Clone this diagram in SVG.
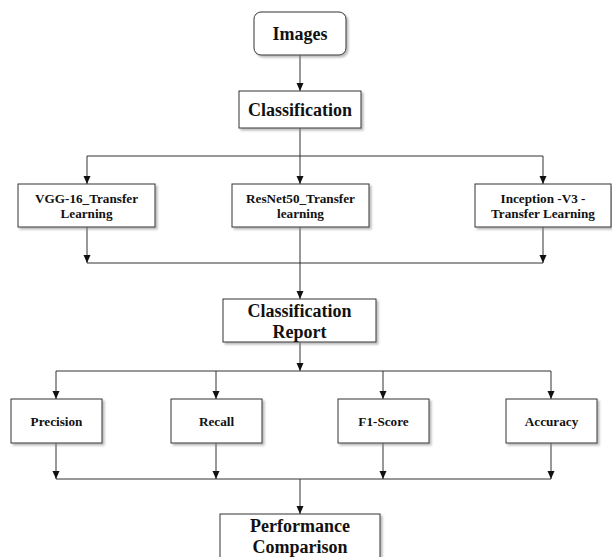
<svg xmlns="http://www.w3.org/2000/svg" width="612" height="557" viewBox="0 0 612 557">
<style>
.box{fill:#fff;stroke:#333;stroke-width:1;filter:url(#sh)}
.t{font-family:"Liberation Serif","Times New Roman",serif;font-weight:bold;fill:#111;text-anchor:middle;dominant-baseline:central}
.big{font-size:18px}
.sm{font-size:13.2px}
.c{fill:none;stroke:#333;stroke-width:1}
.a{fill:none;stroke:#333;stroke-width:1;marker-end:url(#ah)}
</style>
<defs>
<filter id="sh" x="-10%" y="-10%" width="130%" height="140%">
<feDropShadow dx="2" dy="2" stdDeviation="1" flood-color="#888" flood-opacity="0.6"/>
</filter>
<marker id="ah" viewBox="0 0 8 8" refX="8" refY="4" markerWidth="8" markerHeight="8" markerUnits="userSpaceOnUse" orient="auto">
<path d="M0,0.5 L8,4 L0,7.5 Z" fill="#111"/>
</marker>
</defs>
<rect width="612" height="557" fill="#fff"/>
<g id="connectors">
<path class="a" d="M300,55 V91"/>
<path class="c" d="M300,128 V156 M87,156 H543"/>
<path class="a" d="M87,156 V184"/>
<path class="a" d="M300,156 V184"/>
<path class="a" d="M543,156 V184"/>
<path class="a" d="M87,227 V263"/>
<path class="a" d="M543,227 V263"/>
<path class="c" d="M87,263 H543"/>
<path class="a" d="M300,227 V299"/>
<path class="a" d="M300,342 V371"/>
<path class="c" d="M56,371 H551"/>
<path class="a" d="M56,371 V399"/>
<path class="a" d="M216,371 V399"/>
<path class="a" d="M383,371 V399"/>
<path class="a" d="M551,371 V399"/>
<path class="a" d="M56,443 V479"/>
<path class="a" d="M216,443 V479"/>
<path class="a" d="M383,443 V479"/>
<path class="a" d="M551,443 V479"/>
<path class="c" d="M56,479 H551"/>
<path class="a" d="M300,479 V514"/>
</g>
<g id="images"><rect class="box" x="254" y="12" width="92" height="43" rx="7"/><text class="t big" x="300" y="34">Images</text></g>
<g id="classification"><rect class="box" x="239" y="91" width="122" height="37"/><text class="t big" x="300" y="109.5">Classification</text></g>
<g id="vgg"><rect class="box" x="18" y="184" width="137" height="43"/><text class="t sm" x="86.5" y="198">VGG-16_Transfer</text><text class="t sm" x="86.5" y="213">Learning</text></g>
<g id="resnet"><rect class="box" x="232" y="184" width="137" height="43"/><text class="t sm" x="300.5" y="198">ResNet50_Transfer</text><text class="t sm" x="300.5" y="213">learning</text></g>
<g id="inception"><rect class="box" x="475" y="184" width="136" height="43"/><text class="t sm" x="543" y="198">Inception -V3 -</text><text class="t sm" x="543" y="213">Transfer Learning</text></g>
<g id="report"><rect class="box" x="223" y="299" width="153" height="43"/><text class="t big" x="299.5" y="311">Classification</text><text class="t big" x="299.5" y="332">Report</text></g>
<g id="precision"><rect class="box" x="11" y="399" width="91" height="44"/><text class="t sm" x="56.5" y="421.5">Precision</text></g>
<g id="recall"><rect class="box" x="171" y="399" width="91" height="44"/><text class="t sm" x="216.5" y="421.5">Recall</text></g>
<g id="f1"><rect class="box" x="338" y="399" width="91" height="44"/><text class="t sm" x="383.5" y="421.5">F1-Score</text></g>
<g id="accuracy"><rect class="box" x="506" y="399" width="91" height="44"/><text class="t sm" x="551.5" y="421.5">Accuracy</text></g>
<g id="performance"><rect class="box" x="220" y="514" width="160" height="60"/><text class="t big" x="300" y="526">Performance</text><text class="t big" x="300" y="547">Comparison</text></g>
</svg>
